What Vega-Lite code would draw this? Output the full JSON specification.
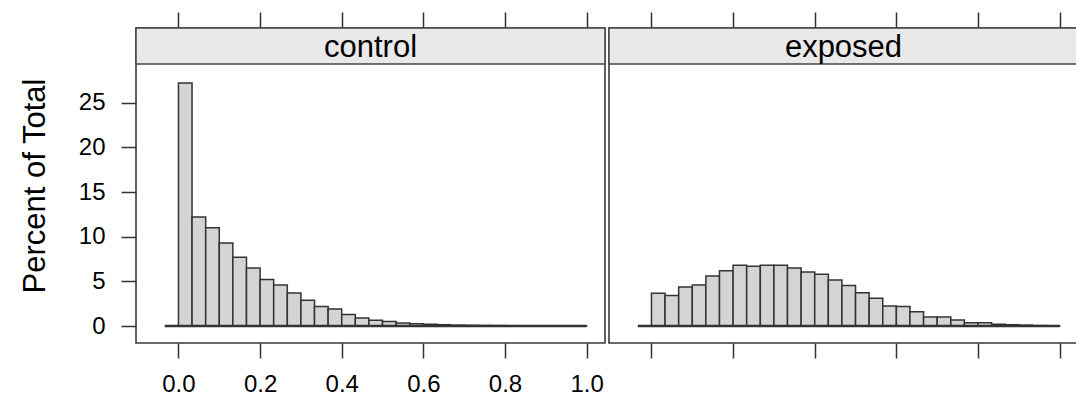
{
  "$schema": "https://vega.github.io/schema/vega-lite/v6.json",
  "padding": {"left": 18, "top": 10, "right": 0, "bottom": 0},
  "background": "white",
  "data": {"values": [
    {"group": "control", "bin_start": -0.0333, "bin_end": 0.0, "pct": 0},
    {"group": "control", "bin_start": 0.0, "bin_end": 0.0333, "pct": 27.2},
    {"group": "control", "bin_start": 0.0333, "bin_end": 0.0667, "pct": 12.2},
    {"group": "control", "bin_start": 0.0667, "bin_end": 0.1, "pct": 11.0},
    {"group": "control", "bin_start": 0.1, "bin_end": 0.1333, "pct": 9.3},
    {"group": "control", "bin_start": 0.1333, "bin_end": 0.1667, "pct": 7.7},
    {"group": "control", "bin_start": 0.1667, "bin_end": 0.2, "pct": 6.5},
    {"group": "control", "bin_start": 0.2, "bin_end": 0.2333, "pct": 5.2},
    {"group": "control", "bin_start": 0.2333, "bin_end": 0.2667, "pct": 4.6},
    {"group": "control", "bin_start": 0.2667, "bin_end": 0.3, "pct": 3.7},
    {"group": "control", "bin_start": 0.3, "bin_end": 0.3333, "pct": 2.9},
    {"group": "control", "bin_start": 0.3333, "bin_end": 0.3667, "pct": 2.2},
    {"group": "control", "bin_start": 0.3667, "bin_end": 0.4, "pct": 1.9},
    {"group": "control", "bin_start": 0.4, "bin_end": 0.4333, "pct": 1.3},
    {"group": "control", "bin_start": 0.4333, "bin_end": 0.4667, "pct": 0.9},
    {"group": "control", "bin_start": 0.4667, "bin_end": 0.5, "pct": 0.65},
    {"group": "control", "bin_start": 0.5, "bin_end": 0.5333, "pct": 0.5},
    {"group": "control", "bin_start": 0.5333, "bin_end": 0.5667, "pct": 0.35},
    {"group": "control", "bin_start": 0.5667, "bin_end": 0.6, "pct": 0.25},
    {"group": "control", "bin_start": 0.6, "bin_end": 0.6333, "pct": 0.2},
    {"group": "control", "bin_start": 0.6333, "bin_end": 0.6667, "pct": 0.15},
    {"group": "control", "bin_start": 0.6667, "bin_end": 0.7, "pct": 0.1},
    {"group": "control", "bin_start": 0.7, "bin_end": 0.7333, "pct": 0.08},
    {"group": "control", "bin_start": 0.7333, "bin_end": 0.7667, "pct": 0.06},
    {"group": "control", "bin_start": 0.7667, "bin_end": 0.8, "pct": 0.05},
    {"group": "control", "bin_start": 0.8, "bin_end": 0.8333, "pct": 0.04},
    {"group": "control", "bin_start": 0.8333, "bin_end": 0.8667, "pct": 0.03},
    {"group": "control", "bin_start": 0.8667, "bin_end": 0.9, "pct": 0.02},
    {"group": "control", "bin_start": 0.9, "bin_end": 0.9333, "pct": 0.02},
    {"group": "control", "bin_start": 0.9333, "bin_end": 0.9667, "pct": 0.01},
    {"group": "control", "bin_start": 0.9667, "bin_end": 1.0, "pct": 0.01},
    {"group": "exposed", "bin_start": -0.0333, "bin_end": 0.0, "pct": 0},
    {"group": "exposed", "bin_start": 0.0, "bin_end": 0.0333, "pct": 3.66},
    {"group": "exposed", "bin_start": 0.0333, "bin_end": 0.0667, "pct": 3.43},
    {"group": "exposed", "bin_start": 0.0667, "bin_end": 0.1, "pct": 4.37},
    {"group": "exposed", "bin_start": 0.1, "bin_end": 0.1333, "pct": 4.6},
    {"group": "exposed", "bin_start": 0.1333, "bin_end": 0.1667, "pct": 5.6},
    {"group": "exposed", "bin_start": 0.1667, "bin_end": 0.2, "pct": 6.2},
    {"group": "exposed", "bin_start": 0.2, "bin_end": 0.2333, "pct": 6.8},
    {"group": "exposed", "bin_start": 0.2333, "bin_end": 0.2667, "pct": 6.7},
    {"group": "exposed", "bin_start": 0.2667, "bin_end": 0.3, "pct": 6.8},
    {"group": "exposed", "bin_start": 0.3, "bin_end": 0.3333, "pct": 6.8},
    {"group": "exposed", "bin_start": 0.3333, "bin_end": 0.3667, "pct": 6.5},
    {"group": "exposed", "bin_start": 0.3667, "bin_end": 0.4, "pct": 6.05},
    {"group": "exposed", "bin_start": 0.4, "bin_end": 0.4333, "pct": 5.8},
    {"group": "exposed", "bin_start": 0.4333, "bin_end": 0.4667, "pct": 5.15},
    {"group": "exposed", "bin_start": 0.4667, "bin_end": 0.5, "pct": 4.55},
    {"group": "exposed", "bin_start": 0.5, "bin_end": 0.5333, "pct": 3.73},
    {"group": "exposed", "bin_start": 0.5333, "bin_end": 0.5667, "pct": 3.1},
    {"group": "exposed", "bin_start": 0.5667, "bin_end": 0.6, "pct": 2.24},
    {"group": "exposed", "bin_start": 0.6, "bin_end": 0.6333, "pct": 2.2},
    {"group": "exposed", "bin_start": 0.6333, "bin_end": 0.6667, "pct": 1.6},
    {"group": "exposed", "bin_start": 0.6667, "bin_end": 0.7, "pct": 1.0},
    {"group": "exposed", "bin_start": 0.7, "bin_end": 0.7333, "pct": 1.0},
    {"group": "exposed", "bin_start": 0.7333, "bin_end": 0.7667, "pct": 0.67},
    {"group": "exposed", "bin_start": 0.7667, "bin_end": 0.8, "pct": 0.37},
    {"group": "exposed", "bin_start": 0.8, "bin_end": 0.8333, "pct": 0.37},
    {"group": "exposed", "bin_start": 0.8333, "bin_end": 0.8667, "pct": 0.2},
    {"group": "exposed", "bin_start": 0.8667, "bin_end": 0.9, "pct": 0.15},
    {"group": "exposed", "bin_start": 0.9, "bin_end": 0.9333, "pct": 0.1},
    {"group": "exposed", "bin_start": 0.9333, "bin_end": 0.9667, "pct": 0.05},
    {"group": "exposed", "bin_start": 0.9667, "bin_end": 1.0, "pct": 0.03}
  ]},
  "spacing": 0,
  "hconcat": [
    {
      "width": 469,
      "height": 315,
      "transform": [{"filter": "datum.group === 'control'"}],
      "resolve": {"scale": {"x": "independent"}},
      "layer": [
        {
          "mark": {"type": "rect", "fill": "#d4d4d4", "stroke": "#333", "strokeWidth": 1.5},
          "encoding": {
            "x": {"field": "bin_start", "type": "quantitative",
                  "scale": {"domain": [-0.104, 1.045], "nice": false, "zero": false},
                  "axis": {"orient": "bottom", "values": [0, 0.2, 0.4, 0.6, 0.8, 1.0], "format": ".1f", "title": null, "labelPadding": 14}},
            "x2": {"field": "bin_end"},
            "y": {"field": "pct", "type": "quantitative",
                  "scale": {"domain": [-1.9, 33.37], "nice": false, "zero": false},
                  "axis": {"orient": "left", "values": [0, 5, 10, 15, 20, 25], "title": "Percent of Total", "labelPadding": 16, "titlePadding": 27}},
            "y2": {"datum": 0}
          }
        },
        {
          "transform": [{"aggregate": [{"op": "min", "field": "bin_start", "as": "lo"}, {"op": "max", "field": "bin_end", "as": "hi"}], "groupby": ["group"]}],
          "mark": {"type": "rule", "stroke": "#333", "strokeWidth": 2.5},
          "encoding": {
            "x": {"field": "lo", "type": "quantitative",
                  "scale": {"domain": [-0.104, 1.045], "nice": false, "zero": false},
                  "axis": {"orient": "top", "labels": false, "values": [0, 0.2, 0.4, 0.6, 0.8, 1.0], "title": null, "tickSize": 16}},
            "x2": {"field": "hi"},
            "y": {"datum": 0, "type": "quantitative"}
          }
        },
        {
          "transform": [{"aggregate": [{"op": "count", "as": "n"}], "groupby": ["group"]}],
          "mark": {"type": "rect", "fill": "#e9e9e9", "stroke": "#444", "strokeWidth": 1.5},
          "encoding": {
            "x": {"datum": -0.104, "type": "quantitative",
                  "scale": {"domain": [-0.104, 1.045], "nice": false, "zero": false}, "axis": null},
            "x2": {"datum": 1.045},
            "y": {"datum": 29.34, "type": "quantitative"},
            "y2": {"datum": 33.37}
          }
        },
        {
          "transform": [{"aggregate": [{"op": "count", "as": "n"}], "groupby": ["group"]}],
          "mark": {"type": "text", "fontSize": 31, "baseline": "alphabetic", "align": "center", "color": "#000"},
          "encoding": {
            "x": {"datum": 0.4705, "type": "quantitative",
                  "scale": {"domain": [-0.104, 1.045], "nice": false, "zero": false}, "axis": null},
            "y": {"datum": 30.12, "type": "quantitative"},
            "text": {"field": "group"}
          }
        }
      ]
    },
    {
      "width": 469,
      "height": 315,
      "transform": [{"filter": "datum.group === 'exposed'"}],
      "resolve": {"scale": {"x": "independent"}},
      "layer": [
        {
          "mark": {"type": "rect", "fill": "#d4d4d4", "stroke": "#333", "strokeWidth": 1.5},
          "encoding": {
            "x": {"field": "bin_start", "type": "quantitative",
                  "scale": {"domain": [-0.104, 1.045], "nice": false, "zero": false},
                  "axis": {"orient": "bottom", "values": [0, 0.2, 0.4, 0.6, 0.8, 1.0], "labels": false, "title": null}},
            "x2": {"field": "bin_end"},
            "y": {"field": "pct", "type": "quantitative",
                  "scale": {"domain": [-1.9, 33.37], "nice": false, "zero": false},
                  "axis": null},
            "y2": {"datum": 0}
          }
        },
        {
          "transform": [{"aggregate": [{"op": "min", "field": "bin_start", "as": "lo"}, {"op": "max", "field": "bin_end", "as": "hi"}], "groupby": ["group"]}],
          "mark": {"type": "rule", "stroke": "#333", "strokeWidth": 2.5},
          "encoding": {
            "x": {"field": "lo", "type": "quantitative",
                  "scale": {"domain": [-0.104, 1.045], "nice": false, "zero": false},
                  "axis": {"orient": "top", "labels": false, "values": [0, 0.2, 0.4, 0.6, 0.8, 1.0], "title": null, "tickSize": 16}},
            "x2": {"field": "hi"},
            "y": {"datum": 0, "type": "quantitative"}
          }
        },
        {
          "transform": [{"aggregate": [{"op": "count", "as": "n"}], "groupby": ["group"]}],
          "mark": {"type": "rect", "fill": "#e9e9e9", "stroke": "#444", "strokeWidth": 1.5},
          "encoding": {
            "x": {"datum": -0.104, "type": "quantitative",
                  "scale": {"domain": [-0.104, 1.045], "nice": false, "zero": false}, "axis": null},
            "x2": {"datum": 1.045},
            "y": {"datum": 29.34, "type": "quantitative"},
            "y2": {"datum": 33.37}
          }
        },
        {
          "transform": [{"aggregate": [{"op": "count", "as": "n"}], "groupby": ["group"]}],
          "mark": {"type": "text", "fontSize": 31, "baseline": "alphabetic", "align": "center", "color": "#000"},
          "encoding": {
            "x": {"datum": 0.4705, "type": "quantitative",
                  "scale": {"domain": [-0.104, 1.045], "nice": false, "zero": false}, "axis": null},
            "y": {"datum": 30.12, "type": "quantitative"},
            "text": {"field": "group"}
          }
        }
      ]
    }
  ],
  "config": {
    "font": "Liberation Sans",
    "view": {"stroke": "#3a3a3a", "strokeWidth": 1.6},
    "axis": {
      "domain": false,
      "grid": false,
      "tickColor": "#333",
      "tickWidth": 1.5,
      "tickSize": 15,
      "labelFont": "Liberation Sans",
      "labelFontSize": 24,
      "labelColor": "#000",
      "labelPadding": 12,
      "titleFont": "Liberation Sans",
      "titleFontSize": 31,
      "titleFontWeight": "normal",
      "titleColor": "#000"
    }
  }
}
